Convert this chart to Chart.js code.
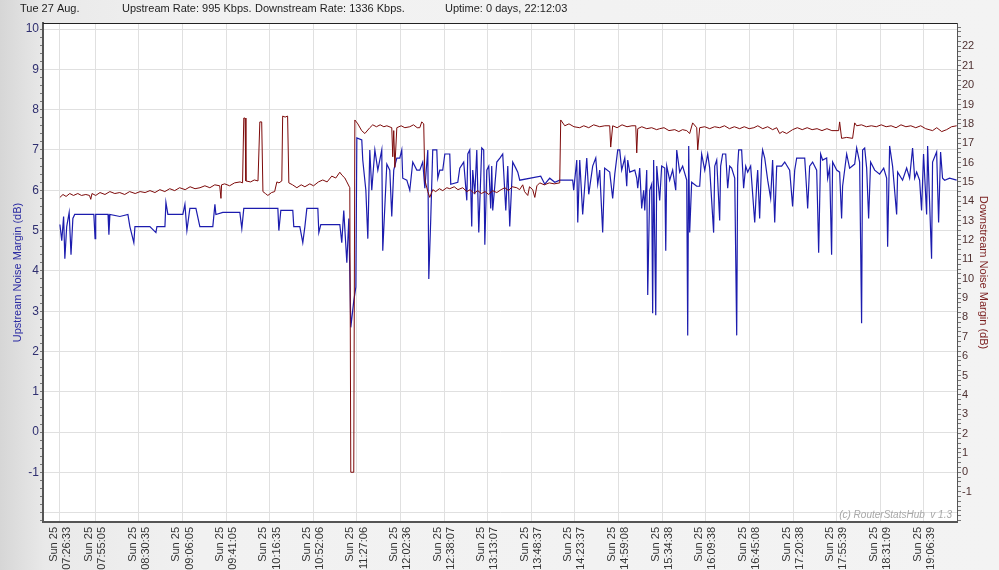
<!DOCTYPE html>
<html>
<head>
<meta charset="utf-8">
<script src="https://cdn.jsdelivr.net/npm/chart.js@4.4.1/dist/chart.umd.min.js"></script>
<style>
  html, body { margin: 0; padding: 0; overflow: hidden; }
  #wrap {
    width: 999px; height: 570px; position: relative;
    background: linear-gradient(to right, #d6d6d6 0px, #e9e9e9 45px, #f1f1f1 200px, #f3f3f3 100%);
  }
</style>
</head>
<body>
<div id="wrap"><canvas id="chart"></canvas></div>
<script>
// Router noise margin chart - upstream (left axis) vs downstream (right axis)

const headerDate = 'Tue 27 Aug.';
const headerUp = 'Upstream Rate: 995 Kbps.';
const headerDown = 'Downstream Rate: 1336 Kbps.';
const headerUptime = 'Uptime: 0 days, 22:12:03';

const tickDay = 'Sun 25';
const tickTimes = ['07:26:33', '07:55:05', '08:30:35', '09:06:05', '09:41:05', '10:16:35', '10:52:06',
  '11:27:06', '12:02:36', '12:38:07', '13:13:07', '13:48:37', '14:23:37', '14:59:08', '15:34:38',
  '16:09:38', '16:45:08', '17:20:38', '17:55:39', '18:31:09', '19:06:39'];

// labelled range of each value axis
const upLabelRange = [-1, 10];
const downLabelRange = [-1, 22];

// sample times in minutes after 07:00
const upTimes = [
  26.5, 28, 29.5, 30.5, 32, 34, 35.5, 37, 38.5, 51.5, 54, 55, 55.5, 65.5, 66.2, 67, 75.1, 81.6, 83.2, 86.4,
  87.3, 99.4, 104.3, 105.1, 111.6, 112.4, 114, 126.1, 127.8, 129.4, 131.8, 136.7, 139.9, 150.4, 152.1, 152.9,
  158.5, 172.3, 173.9, 175.5, 203.1, 203.9, 205.5, 215.2, 216, 220.9, 223.3, 225, 226.6, 235.5, 236.3, 237.9,
  253.3, 254.9, 256.5, 259, 260.6, 262.2, 264.6, 266.3, 267.1, 271.1, 271.9, 274.4, 276, 277.6, 279.2, 281.7,
  284.1, 287.3, 288.1, 291.4, 293.8, 295.4, 297, 299.5, 301.9, 303.5, 304.3, 307.6, 310, 312.4, 315.7, 318.1,
  320.5, 322.2, 324.6, 325.4, 327, 328.6, 331.9, 332.7, 334.3, 336.7, 338.4, 342.4, 343.2, 348.9, 350.5, 353.7,
  356.2, 357, 358.6, 360.2, 361, 362.7, 364.3, 365.9, 368.3, 369.9, 370.8, 372.4, 374, 375.6, 376.4, 377.2,
  380.5, 383, 385.3, 387.8, 389.4, 391, 393.4, 395.9, 397.5, 399.1, 416.1, 419.4, 423.4, 427.5, 431.5, 442,
  442.8, 445.3, 446.1, 447.7, 450.1, 453.4, 455, 458.2, 460.7, 462.3, 463.9, 466.3, 467.9, 472, 474.4, 476.1,
  478.5, 480.1, 481.7, 484.2, 485.8, 486.6, 488.2, 492.3, 493.9, 494.7, 496.3, 497.9, 499.5, 500.4, 502, 502.8,
  504.4, 506, 506.8, 507.6, 509.3, 510.1, 512.5, 514.1, 516.6, 517.4, 518.2, 520.6, 523, 525.5, 526.3, 528.7,
  531.1, 534.4, 535.2, 536, 536.8, 538.4, 542.5, 544.9, 546.5, 549, 551.4, 553, 556.2, 557.1, 558.7, 561.1,
  561.9, 563.5, 566, 567.6, 569.2, 570.8, 573.3, 574.9, 575.7, 576.5, 578.9, 580.5, 582.2, 583.8, 586.2, 589.5,
  591.1, 591.9, 593.5, 595.1, 595.9, 597.6, 600, 602.4, 604, 605.7, 607.3, 611.3, 613.8, 617.8, 620.2, 621.9,
  623.5, 630, 631.6, 632.4, 634, 636.4, 639.7, 640.5, 641.3, 642.9, 644.5, 647.8, 648.6, 650.2, 651.8, 652.6,
  655.9, 658.3, 659.9, 660.7, 664, 666.4, 670.5, 672.1, 674.5, 676.1, 676.9, 678.6, 680.2, 681.8, 683.4, 686.7,
  690.7, 694, 696.4, 697.2, 698.8, 701.2, 704.5, 705.3, 709.3, 712.6, 715, 717.4, 719.1, 720.7, 723.1, 724.7,
  726.3, 728.8, 729.6, 732.8, 733.6, 736.9, 738.5, 740.1, 741.7, 743.4, 747.4, 753.1
];
const upMargin = [
  5.15, 4.75, 5.35, 4.3, 5.1, 5.45, 4.4, 5.3, 5.4, 5.4, 5.4, 4.8, 5.4, 5.4, 4.9, 5.4, 5.35, 5.4, 5.1, 4.7,
  5.1, 5.1, 4.95, 5.1, 5.1, 5.7, 5.4, 5.4, 5.65, 5.0, 5.55, 5.55, 5.1, 5.1, 5.65, 5.4,
  5.45, 5.45, 5.05, 5.55, 5.55, 5.0, 5.5, 5.5, 5.1, 5.1, 4.7, 5.1, 5.55, 5.55, 4.95, 5.15,
  5.15, 4.7, 5.5, 4.2, 5.3, 2.6, 3.25, 3.6, 7.3, 7.25, 6.75, 6.0, 4.8, 7.0, 6.0, 7.0,
  6.5, 7.0, 4.5, 6.65, 6.5, 5.35, 6.5, 6.8, 6.8, 7.0, 6.3, 6.25, 6.0, 6.7, 6.5, 6.5,
  6.7, 6.05, 7.0, 3.8, 5.3, 7.0, 7.0, 6.3, 6.5, 6.5, 6.9, 6.9, 6.15, 6.2, 6.55, 6.7,
  5.75, 6.9, 7.0, 5.1, 6.5, 5.9, 7.0, 4.95, 7.05, 7.0, 4.65, 6.5, 6.6, 5.55, 6.6, 5.5,
  6.7, 6.8, 6.9, 5.5, 6.6, 5.1, 6.7, 6.55, 6.45, 6.25, 6.35, 6.15, 6.3, 6.2, 6.25, 6.25,
  6.0, 6.75, 5.2, 6.75, 5.4, 6.8, 5.9, 6.6, 6.8, 6.15, 6.5, 4.95, 6.55, 6.45, 5.8, 6.4,
  7.0, 7.0, 6.5, 6.8, 6.1, 6.75, 6.45, 6.5, 6.3, 6.05, 6.55, 5.55, 6.0, 5.5, 6.5, 3.4,
  6.0, 6.15, 2.95, 6.75, 2.9, 6.6, 5.75, 6.6, 6.55, 4.5, 6.6, 6.25, 6.5, 6.0, 7.0, 6.45,
  6.6, 6.25, 2.4, 7.1, 4.95, 6.2, 6.1, 6.1, 6.9, 6.5, 6.9, 6.55, 4.95, 6.6, 6.75, 5.25,
  6.6, 6.9, 6.9, 6.05, 6.6, 6.55, 6.3, 2.4, 6.6, 7.0, 7.0, 6.05, 6.6, 6.45, 6.6, 5.2,
  6.15, 6.5, 5.3, 6.75, 7.0, 6.8, 6.25, 5.8, 6.75, 5.2, 6.6, 6.6, 6.7, 6.5, 5.6, 6.5,
  6.8, 6.8, 6.0, 5.55, 6.6, 6.7, 6.5, 5.55, 4.45, 6.9, 6.75, 6.8, 6.3, 6.55, 4.4, 6.7,
  6.5, 6.45, 5.3, 6.1, 6.9, 6.55, 6.65, 7.05, 6.7, 2.7, 7.0, 7.05, 6.55, 5.3, 6.7, 6.5,
  6.4, 6.55, 6.3, 4.6, 7.1, 6.6, 5.4, 6.45, 6.25, 6.55, 6.3, 7.05, 6.3, 6.45, 6.25, 5.5,
  6.9, 5.4, 7.1, 4.3, 6.7, 6.95, 5.2, 6.95, 6.3, 6.25, 6.3, 6.25
];

const downTimes = [
  26.5, 29, 31.5, 34.5, 37.5, 41, 44, 47.5, 50.5, 51.5, 52.5, 55.5, 59, 63, 67, 71, 75, 79, 83, 87.5,
  91.5, 95.5, 99.5, 103.5, 107.5, 111.5, 115.5, 119.5, 123.5, 128, 132, 136, 140, 144, 148, 152, 156, 157,
  157.5, 160, 164, 168, 172.5, 174.5, 175.5, 176.5, 177.2, 181, 184, 187, 188.5, 190, 191, 193, 195, 198,
  200.5, 202.3, 204, 206.3, 207, 209, 211, 212, 215, 218.5, 222, 225, 229, 232, 236, 239.5, 243, 246.8,
  250, 253.3, 255, 257.4, 259, 261.4, 262.2, 264.6, 265.5, 267.9, 271, 273.6, 277.6, 280, 283, 286, 289,
  291.4, 295.4, 296.2, 297, 297.9, 299.5, 303, 306, 310, 313, 316, 318.1, 319.7, 321.3, 322.2, 324.6, 326.2,
  328.6, 331, 334, 336.7, 340, 342.4, 346, 349, 352.9, 356.2, 359, 362, 365, 368, 371, 374, 377, 380.5,
  384, 387, 390, 393, 396.7, 399, 401.5, 403, 405.6, 407, 409.6, 411.3, 413, 415.3, 419, 423, 427, 431.5,
  432.3, 435.6, 439, 443, 447.7, 451, 455, 459, 463.9, 468, 472, 472.8, 474.4, 478, 482, 486, 490, 493.1,
  493.9, 494.7, 498, 502, 506, 510, 512.5, 516, 520, 524.7, 528, 531, 534.4, 536.8, 539.2, 542.5, 543.3,
  544.9, 549, 553, 557, 561.1, 565, 569, 573, 577.3, 581, 585, 588.8, 592, 596, 600, 604, 607.3, 609.7,
  612, 615.4, 620.2, 624, 628, 632, 636, 640, 644, 648, 652, 657.5, 658.3, 659.9, 664, 668.8, 670.5, 672.1,
  676, 680, 684, 688, 692, 696, 700, 704, 708, 712, 716, 720, 724, 728, 733.6, 737, 741, 745, 749, 753.1
];
const downMargin = [
  14.2, 14.35, 14.25, 14.4, 14.3, 14.4, 14.3, 14.35, 14.3, 14.1, 14.4, 14.3, 14.45, 14.35, 14.5, 14.4, 14.45, 14.35, 14.5, 14.4,
  14.5, 14.45, 14.55, 14.45, 14.6, 14.5, 14.65, 14.55, 14.7, 14.6, 14.75, 14.65, 14.7, 14.8, 14.7, 14.85, 14.8, 14.15,
  14.85, 14.9, 14.8, 14.95, 15.0, 14.95, 18.3, 18.3, 15.05, 15.0, 15.1, 15.05, 18.1, 18.1, 14.5, 14.4, 14.3, 14.45,
  14.5, 15.0, 14.95, 15.05, 18.4, 18.35, 18.4, 14.95, 14.85, 14.7, 14.85, 14.75, 14.9, 14.8, 15.0, 15.1, 15.0, 15.3,
  15.2, 15.5, 15.35, 15.2, 15.0, 14.7, 0, 0, 18.2, 18.0, 17.65, 17.5, 17.8, 17.95, 17.85, 17.95, 17.85,
  17.9, 17.8, 16.3, 17.65, 15.75, 17.8, 17.9, 17.8, 17.85, 17.95, 17.8, 17.8, 18.1, 18.0, 15.1, 14.5, 14.2,
  14.6, 14.5, 14.65, 14.55, 14.7, 14.65, 14.75, 14.6, 14.7, 14.5, 14.6, 14.4, 14.55, 14.4, 14.5, 14.35, 14.55, 14.45,
  14.6, 14.7, 14.55, 14.75, 14.7, 14.6, 14.85, 14.5, 14.3, 14.75, 14.6, 14.2, 14.8, 14.95, 14.85, 14.95, 14.9, 14.95,
  18.2, 17.9, 18.0, 17.85, 17.8, 17.9, 17.8, 17.95, 17.85, 17.9, 17.9, 16.8, 17.9, 17.8, 17.95, 17.85, 17.9, 17.9,
  16.5, 17.75, 17.85, 17.75, 17.8, 17.7, 17.75, 17.8, 17.65, 17.7, 17.6, 17.7, 17.65, 17.5, 18.05, 17.8, 16.65,
  17.8, 17.85, 17.75, 17.85, 17.8, 17.9, 17.75, 17.85, 17.75, 17.85, 17.75, 17.8, 17.9, 17.75, 17.85, 17.7, 17.8, 17.5,
  17.6, 17.5, 17.7, 17.8, 17.7, 17.8, 17.7, 17.75, 17.65, 17.75, 17.65, 17.65, 18.1, 17.25, 17.3, 17.25, 18.05, 17.9,
  17.95, 17.85, 17.9, 17.85, 17.95, 17.85, 17.9, 17.8, 17.95, 17.85, 17.9, 17.8, 17.9, 17.75, 17.65, 17.8, 17.6, 17.7, 17.85, 17.9
];

const upColor = '#1c1cae';
const downColor = '#7d0a0a';
const fontFamily = "'Liberation Sans', Arial, sans-serif";

function toMinutes(hms) {
  const [h, m, s] = hms.split(':').map(Number);
  return h * 60 + m + s / 60 - 420;
}
const tickMinutes = tickTimes.map(toMinutes);

function isWhole(v) {
  return Math.abs(v - Math.round(v)) < 1e-6;
}

function axisLabel(v, range) {
  if (!isWhole(v)) return '';
  const n = Math.round(v);
  return n >= range[0] && n <= range[1] ? String(n) : '';
}

// background, frame, header line and watermark
const framePlugin = {
  id: 'frame',
  beforeDraw(chart) {
    const { ctx, chartArea: a } = chart;
    ctx.save();
    ctx.fillStyle = '#ffffff';
    ctx.fillRect(a.left, a.top, a.right - a.left, a.bottom - a.top);
    ctx.restore();
  },
  afterDraw(chart) {
    const { ctx, chartArea: a } = chart;
    ctx.save();
    ctx.strokeStyle = '#222';
    ctx.lineWidth = 1;
    ctx.beginPath();
    ctx.moveTo(a.left, a.top + 0.5);
    ctx.lineTo(a.right, a.top + 0.5);
    ctx.stroke();

    ctx.fillStyle = '#1e1e1e';
    ctx.font = '11px ' + fontFamily;
    ctx.textBaseline = 'middle';
    ctx.fillText(headerDate, 20, 9);
    ctx.fillText(headerUp, 122, 9);
    ctx.fillText(headerDown, 255, 9);
    ctx.fillText(headerUptime, 445, 9);

    ctx.fillStyle = '#a8a8a8';
    ctx.font = 'italic 10px ' + fontFamily;
    ctx.textAlign = 'right';
    ctx.textBaseline = 'alphabetic';
    ctx.fillText('(c) RouterStatsHub  v 1.3', a.right - 5, a.bottom - 4);
    ctx.restore();
  }
};

const ctx = document.getElementById('chart').getContext('2d');
new Chart(ctx, {
  type: 'line',
  data: {
    datasets: [
      {
        label: 'Downstream Noise Margin',
        data: downTimes.map((t, i) => ({ x: t, y: downMargin[i] })),
        yAxisID: 'yDown',
        borderColor: downColor,
        borderWidth: 1,
        pointRadius: 0,
        tension: 0
      },
      {
        label: 'Upstream Noise Margin',
        data: upTimes.map((t, i) => ({ x: t, y: upMargin[i] })),
        yAxisID: 'yUp',
        borderColor: upColor,
        borderWidth: 1.2,
        pointRadius: 0,
        tension: 0
      }
    ]
  },
  options: {
    responsive: true,
    maintainAspectRatio: false,
    animation: false,
    layout: { padding: { top: 23, left: 0, right: 0, bottom: 0 } },
    plugins: {
      legend: { display: false },
      tooltip: { enabled: false }
    },
    scales: {
      x: {
        type: 'linear',
        min: 12.8,
        max: 753.4,
        afterBuildTicks: scale => {
          scale.ticks = tickMinutes.map(v => ({ value: v }));
        },
        afterFit: scale => { scale.height = 48; },
        grid: { color: '#e0e0e0', drawTicks: false },
        border: { color: '#555', width: 2 },
        ticks: {
          autoSkip: false,
          maxRotation: 90,
          minRotation: 90,
          padding: 5,
          labelOffset: -6.5,
          color: '#333',
          font: { family: fontFamily, size: 11 },
          callback: value => {
            const i = tickMinutes.findIndex(v => Math.abs(v - value) < 1e-6);
            return i < 0 ? '' : [tickDay, tickTimes[i]];
          }
        }
      },
      yUp: {
        position: 'left',
        min: -2.23,
        max: 10.15,
        afterBuildTicks: scale => {
          const ticks = [];
          for (let k = -11; k <= 50; k++) ticks.push({ value: k / 5 });
          scale.ticks = ticks;
        },
        afterFit: scale => { scale.width = 43; },
        grid: {
          color: c => (isWhole(c.tick.value) ? '#e0e0e0' : 'rgba(0,0,0,0)'),
          tickColor: '#777',
          tickLength: 3
        },
        border: { color: '#555', width: 2 },
        ticks: {
          autoSkip: false,
          padding: 1,
          color: '#2f2f70',
          font: { family: fontFamily, size: 12 },
          callback: v => axisLabel(v, upLabelRange)
        },
        title: {
          display: true,
          text: 'Upstream Noise Margin (dB)',
          color: '#2a2aa2',
          font: { family: fontFamily, size: 11 },
          padding: { top: 11, bottom: 0 }
        }
      },
      yDown: {
        position: 'right',
        min: -2.57,
        max: 23.21,
        afterBuildTicks: scale => {
          const ticks = [];
          for (let k = -10; k <= 92; k++) ticks.push({ value: k / 4 });
          scale.ticks = ticks;
        },
        afterFit: scale => { scale.width = 42; },
        grid: {
          drawOnChartArea: false,
          tickColor: '#777',
          tickLength: 4
        },
        border: { color: '#555', width: 1 },
        ticks: {
          autoSkip: false,
          padding: 1,
          color: '#4e3030',
          font: { family: fontFamily, size: 11 },
          callback: v => axisLabel(v, downLabelRange)
        },
        title: {
          display: true,
          text: 'Downstream Noise Margin (dB)',
          color: '#7a1e1e',
          font: { family: fontFamily, size: 11 },
          padding: { top: 9, bottom: 0 }
        }
      }
    }
  },
  plugins: [framePlugin]
});
</script>
</body>
</html>
